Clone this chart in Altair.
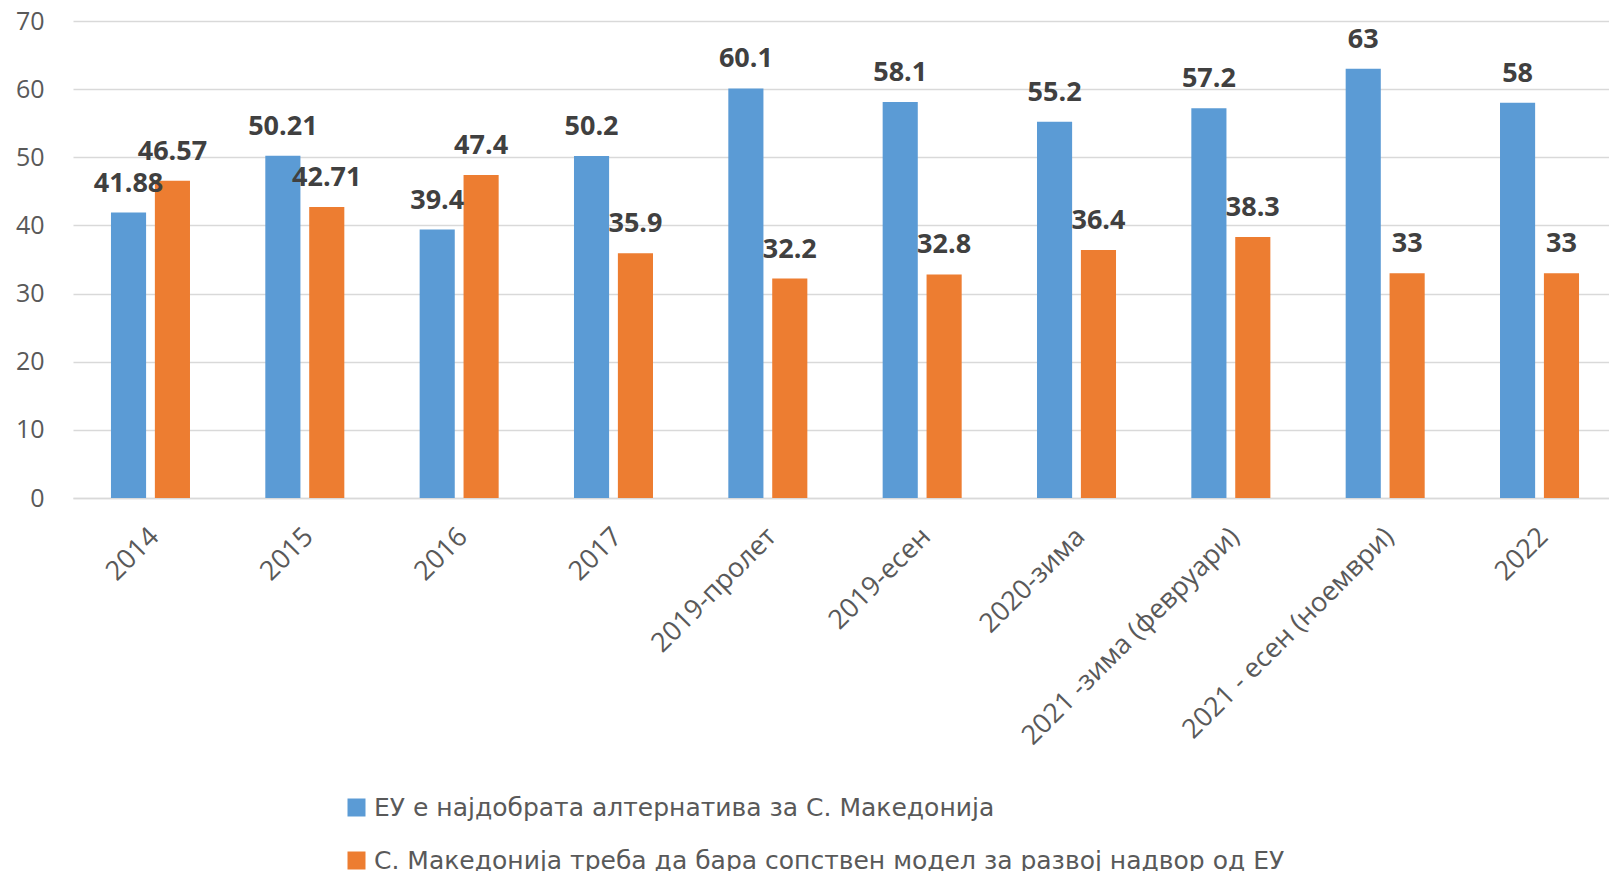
import altair as alt
import pandas as pd

categories = ["2014", "2015", "2016", "2017", "2019-пролет", "2019-есен", "2020-зима",
              "2021 -зима (февруари)", "2021 - есен (ноември)", "2022"]
eu_values = [41.88, 50.21, 39.4, 50.2, 60.1, 58.1, 55.2, 57.2, 63, 58]
own_values = [46.57, 42.71, 47.4, 35.9, 32.2, 32.8, 36.4, 38.3, 33, 33]
eu_labels = ["41.88", "50.21", "39.4", "50.2", "60.1", "58.1", "55.2", "57.2", "63", "58"]
own_labels = ["46.57", "42.71", "47.4", "35.9", "32.2", "32.8", "36.4", "38.3", "33", "33"]
series = ["ЕУ е најдобрата алтернатива за С. Македонија",
          "С. Македонија треба да бара сопствен модел за развој надвор од ЕУ"]
colors = ["#5B9BD5", "#ED7D31"]

rows = []
for i, c in enumerate(categories):
    rows.append({"cat": c, "series": series[0], "value": eu_values[i], "label": eu_labels[i]})
    rows.append({"cat": c, "series": series[1], "value": own_values[i], "label": own_labels[i]})
df = pd.DataFrame(rows)

FONT = "Open Sans"
LEGEND_FONT = "DejaVu Sans"

x = alt.X("cat:N", sort=categories, title=None,
          scale=alt.Scale(paddingInner=0.488, paddingOuter=0.246, range=[0, 1544]),
          axis=alt.Axis(labelAngle=-45, labelAlign="right", labelBaseline="top",
                        labelPadding=25, labelOffset=-5, labelFontSize=27, labelFont=FONT,
                        labelColor="#595959", labelLimit=0, labelOverlap=False,
                        ticks=False, domain=True, domainColor="#d9d9d9", domainWidth=1.5,
                        grid=False))
xo = alt.XOffset("series:N", sort=series, scale=alt.Scale(paddingInner=0.2, paddingOuter=0))
y = alt.Y("value:Q", title=None, scale=alt.Scale(domain=[0, 70], nice=False),
          axis=alt.Axis(values=list(range(0, 71, 10)), labelFontSize=25, labelFont=FONT,
                        labelColor="#595959", labelPadding=29, ticks=False, domain=False,
                        grid=True, gridColor="#d9d9d9", gridWidth=1.5))

bars = alt.Chart(df).mark_bar().encode(
    x=x, xOffset=xo, y=y,
    color=alt.Color("series:N", sort=series, scale=alt.Scale(domain=series, range=colors),
                    legend=alt.Legend(title=None, orient="none", legendX=271, legendY=774,
                                      direction="vertical", symbolType="square",
                                      symbolSize=324, symbolStrokeWidth=0,
                                      labelFontSize=25, labelFont=LEGEND_FONT, labelColor="#595959",
                                      labelLimit=2000, rowPadding=27, padding=0, labelOffset=5)),
)

texts = alt.Chart(df).mark_text(dy=-21, baseline="alphabetic", fontWeight="bold",
                                fontSize=27, font=FONT, color="#404040").encode(
    x=x, xOffset=xo, y=y, text="label:N")

chart = alt.layer(bars, texts).properties(
    width=1536, height=477,
    autosize=alt.AutoSizeParams(type="none"),
    padding={"left": 65, "top": 13, "right": 0, "bottom": 373},
).configure_view(stroke=None)

chart.save("out.html", embed_options={"renderer": "svg", "actions": False})
